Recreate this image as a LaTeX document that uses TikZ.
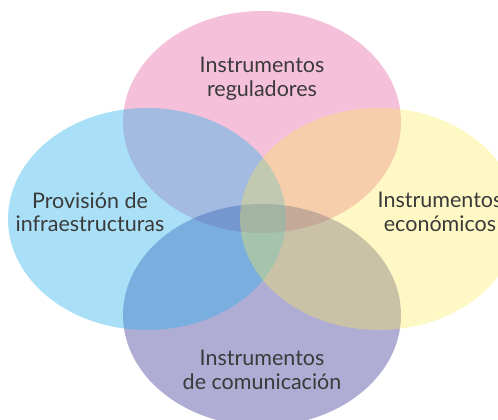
\documentclass[tikz,border=0pt]{standalone}
\usepackage{fontspec}
\setmainfont{Lato}
\usepackage{tikz}

\definecolor{rosa}{RGB}{230,97,162}
\definecolor{celeste}{RGB}{40,177,237}
\definecolor{amarillo}{RGB}{251,234,86}
\definecolor{lila}{RGB}{55,50,147}
\definecolor{texto}{RGB}{58,58,58}

\tikzset{etiq/.style={align=center, text=texto, font=\fontsize{21.5}{23.5}\selectfont}}

\begin{document}
\begin{tikzpicture}[x=1pt,y=1pt]
\useasboundingbox (0,0) rectangle (498,420);
\clip (0,0) rectangle (498,420);

\fill [rosa, fill opacity=0.4] (262,298) ellipse [x radius=139, y radius=111];
\fill [lila, fill opacity=0.4] (262,105) ellipse [x radius=139, y radius=111];
\fill [celeste, fill opacity=0.4] (147,201) ellipse [x radius=139, y radius=111];
\fill [amarillo, fill opacity=0.35] (379,201) ellipse [x radius=139, y radius=111];

\node [etiq] (reg) at (262,341) {Instrumentos\\reguladores};
\node [etiq] (inf) at (90,208) {Provisión de\\infraestructuras};
\node [etiq] (eco) at (440,208) {Instrumentos\\económicos};
\node [etiq] (com) at (262,50) {Instrumentos\\de comunicación};

\end{tikzpicture}
\end{document}
